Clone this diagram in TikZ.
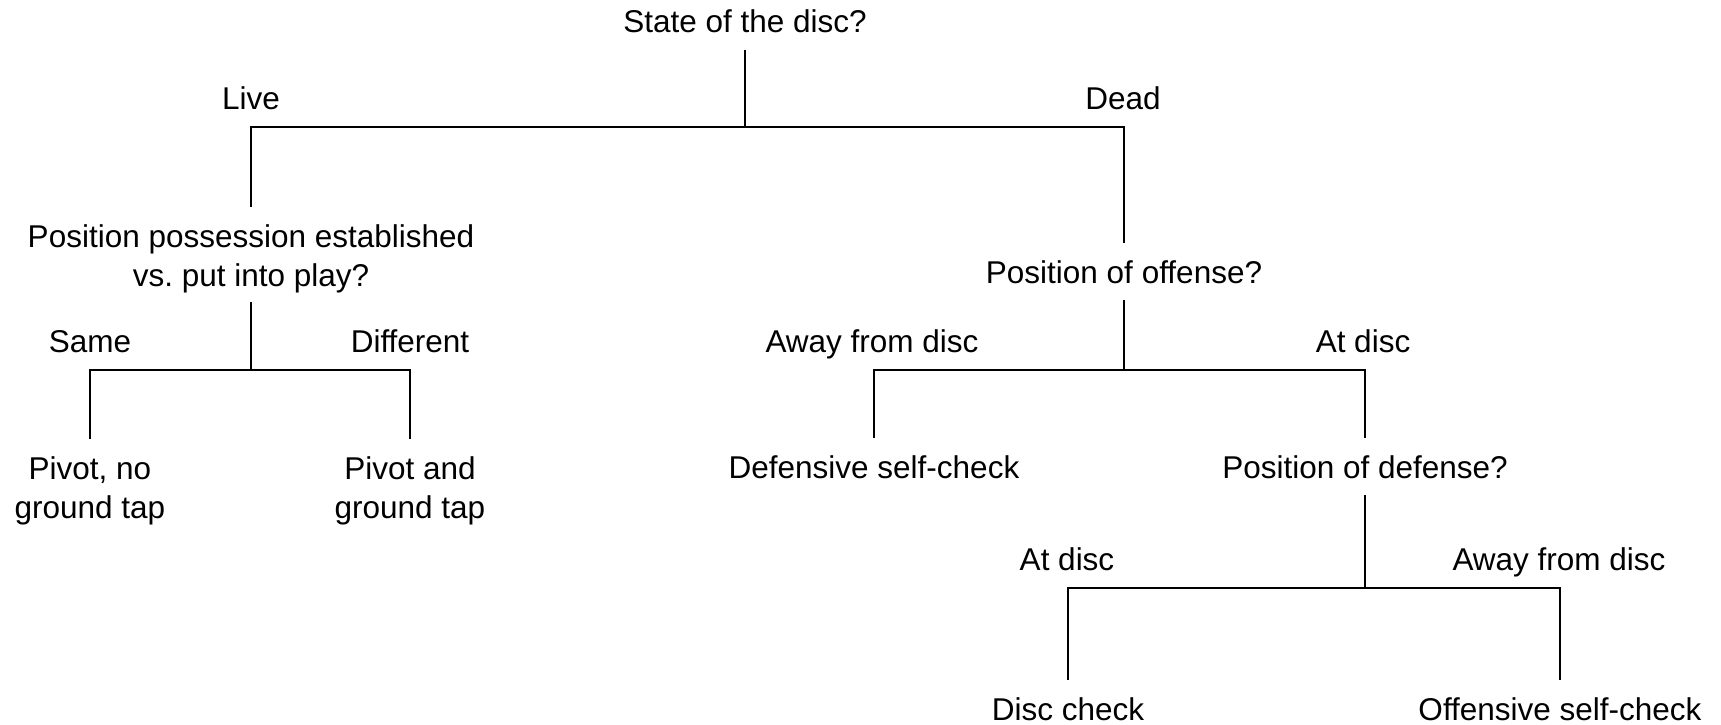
\documentclass[tikz,border=0pt]{standalone}
\usepackage{fontspec}
\setmainfont{Liberation Sans}
\usetikzlibrary{calc}

\tikzset{
    txt/.style={font=\fontsize{31.5}{39}\selectfont, inner sep=0pt, outer sep=17pt, align=center, anchor=base},
    link/.style={line width=2pt},
    stem/.style={line width=2.6pt}
}

\begin{document}
\begin{tikzpicture}[x=1pt,y=-1pt]

	    \useasboundingbox (0,0) rectangle (1721,725);

	    % questions and outcomes (base = last line)
	    \node[txt] (root) at (745,33) {State of the disc?};
	    \node[txt] (q1) at (251,286) {Position possession established\\vs.\ put into play?};
	    \node[txt] (q2) at (1124,283) {Position of offense?};
	    \node[txt] (pivA) at (90,518) {Pivot, no\\ground tap};
	    \node[txt] (pivB) at (410,518) {Pivot and\\ground tap};
	    \node[txt] (defs) at (874,478) {Defensive self-check};
	    \node[txt] (q3) at (1365,478) {Position of defense?};
	    \node[txt] (dcheck) at (1068,720) {Disc check};
	    \node[txt] (offs) at (1560,720) {Offensive self-check};

	    % branch labels
	    \node[txt] (live) at (251,110) {Live};
	    \node[txt] (dead) at (1123,110) {Dead};
	    \node[txt] (same) at (90,352) {Same};
	    \node[txt] (diff) at (410,352) {Different};
	    \node[txt] (awayO) at (872,352) {Away from disc};
	    \node[txt] (atO) at (1363,352) {At disc};
	    \node[txt] (atD) at (1067,570) {At disc};
	    \node[txt] (awayD) at (1559,570) {Away from disc};

	    % junctions
	    \coordinate (j0) at (745,127);
	    \coordinate (j1) at (251,370);
	    \coordinate (j2) at (1124,370);
	    \coordinate (j3) at (1365,588);

	    \draw[link] (root) -- (j0);
	    \draw[link] (q1) |- (j0) -| (q2);

	    \draw[stem] ([yshift=8pt]q1.south) -- (j1);
	    \draw[link] (pivA) |- (j1) -| (pivB);

	    \draw[stem] (q2) -- (j2);
	    \draw[link] (defs) |- (j2) -| (q3);

	    \draw[stem] (q3) -- (j3);
	    \draw[link] (dcheck) |- (j3) -| (offs);

\end{tikzpicture}
\end{document}
